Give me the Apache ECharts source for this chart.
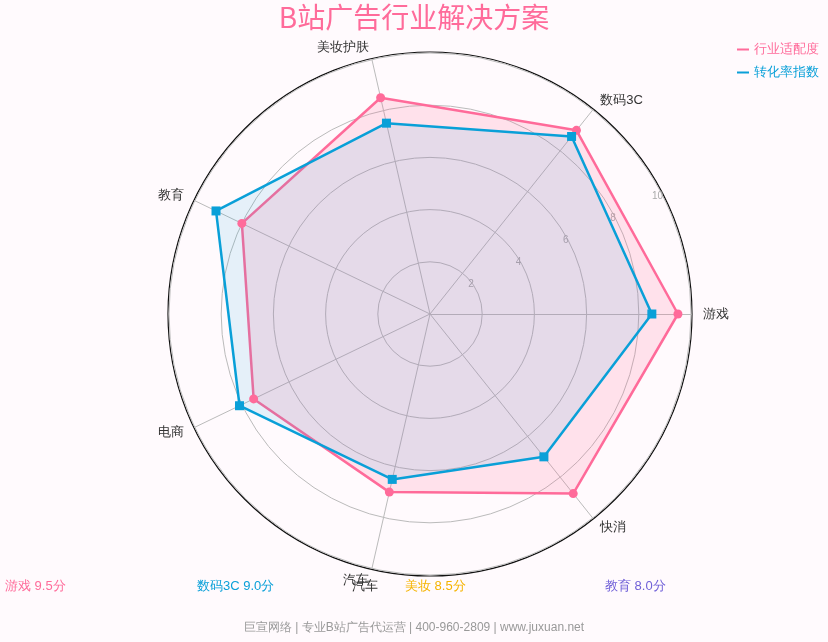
<!DOCTYPE html><html><head><meta charset="utf-8"><script src="https://cdn.jsdelivr.net/npm/echarts@6/dist/echarts.min.js"></script>
<style>html,body{margin:0;background:#fffafd}#c{width:828px;height:642px}</style></head><body><div id="c"></div><script>
const indicators=['游戏','数码3C','美妆护肤','教育','电商','汽车','快消'];
const fitValues=[9.5,9.0,8.5,8.0,7.5,7.0,8.8];
const convValues=[8.5,8.7,7.5,9.1,8.1,6.5,7.0];
const ticks=[0,2,4,6,8,10];
const c=echarts.init(document.getElementById('c'));
c.setOption({
backgroundColor:'#fffafd',
title:{text:'B站广告行业解决方案',left:'center',top:-2,textStyle:{color:'#ff6b9a',fontSize:28,fontWeight:'normal',fontFamily:'Noto Sans CJK SC'}},
legend:{orient:'vertical',right:4,top:38,itemGap:10,itemWidth:12,itemHeight:2,icon:'rect',data:[{name:'行业适配度',textStyle:{color:'#ff6b9a'}},{name:'转化率指数',textStyle:{color:'#0aa0d8'}}],textStyle:{fontSize:13}},
radar:{center:[430,314],radius:261,startAngle:0,shape:'circle',max:10,splitNumber:5,
indicator:indicators.map(n=>({name:n,max:10})),
axisName:{color:'#333',fontSize:13},nameGap:12,
splitArea:{show:false},splitLine:{lineStyle:{color:'#bbb'}},axisLine:{lineStyle:{color:'#bbb'}}},
polar:{center:[430,314],radius:261},
angleAxis:{startAngle:25,show:false,type:'value',min:0,max:360},
radiusAxis:{min:0,max:10,interval:2,axisLine:{show:false},axisTick:{show:false},splitLine:{show:false},
axisLabel:{color:'#aaa',fontSize:10,formatter:v=>ticks.includes(v)&&v>0?String(v):''}},
graphic:[
{type:'circle',shape:{cx:430,cy:314,r:262},style:{fill:'none',stroke:'#111',lineWidth:1.2},silent:true},
{type:'text',left:5,top:580,style:{text:'游戏 9.5分',fill:'#ff6b9a',fontSize:13}},
{type:'text',left:197,top:580,style:{text:'数码3C 9.0分',fill:'#0aa0d8',fontSize:13}},
{type:'text',left:352,top:580,style:{text:'汽车',fill:'#333',fontSize:13}},
{type:'text',left:405,top:580,style:{text:'美妆 8.5分',fill:'#f5b400',fontSize:13}},
{type:'text',left:605,top:580,style:{text:'教育 8.0分',fill:'#7060d8',fontSize:13}},
{type:'text',left:'center',top:622,style:{text:'巨宣网络 | 专业B站广告代运营 | 400-960-2809 | www.juxuan.net',fill:'#999',fontSize:12}}
],
series:[{type:'radar',data:[
{name:'行业适配度',value:fitValues,symbol:'circle',symbolSize:9,itemStyle:{color:'#ff6b9a'},lineStyle:{color:'#ff6b9a',width:2.5},areaStyle:{color:'rgba(255,107,154,0.25)'}},
{name:'转化率指数',value:convValues,symbol:'rect',symbolSize:9,itemStyle:{color:'#0aa0d8'},lineStyle:{color:'#0aa0d8',width:2.5},areaStyle:{color:'rgba(10,160,216,0.15)'}}
]}]
});
</script></body></html>
